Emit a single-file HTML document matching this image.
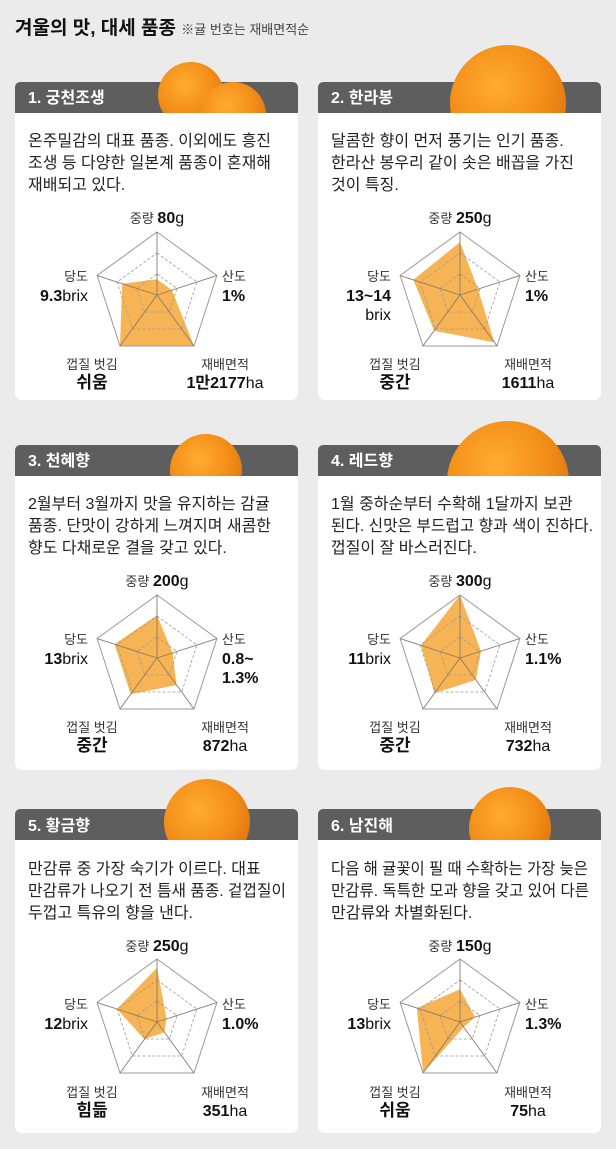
<!DOCTYPE html>
<html><head><meta charset="utf-8"><style>
html,body{margin:0;padding:0;background:#ebebeb}
svg{display:block}
text{font-family:"Liberation Sans","Noto Sans CJK KR",sans-serif}
.t{font-size:13px;fill:#333}
.v{font-size:16px;fill:#111}
.b{font-weight:bold}
.d{font-size:16px;fill:#222}
.h{font-size:16px;fill:#fff;font-weight:bold}
</style></head><body>
<svg id="s" width="616" height="1149" viewBox="0 0 616 1149" xmlns="http://www.w3.org/2000/svg">
<defs>
<radialGradient id="og" cx="0.4" cy="0.35" r="0.7">
<stop offset="0" stop-color="#ffac30"/><stop offset="0.6" stop-color="#f38e18"/><stop offset="1" stop-color="#dc7410"/>
</radialGradient>
</defs>
<rect width="616" height="1149" fill="#ebebeb"/>
<text x="15" y="34" style="font-size:19px;font-weight:bold;fill:#111">겨울의 맛, 대세 품종 <tspan style="font-size:13px;font-weight:normal;fill:#444">※귤 번호는 재배면적순</tspan></text>
<g id="cards"></g>
<g id="texts">
<text class="h" x="28" y="103">1. 궁천조생</text>
<text class="d" x="28" y="146">온주밀감의 대표 품종. 이외에도 흥진</text>
<text class="d" x="28" y="168">조생 등 다양한 일본계 품종이 혼재해</text>
<text class="d" x="28" y="190">재배되고 있다.</text>
<text class="t" x="157" y="223" text-anchor="middle">중량 <tspan class="v b">80</tspan><tspan class="v">g</tspan></text>
<text class="t" x="88" y="281" text-anchor="end">당도</text>
<text class="v" x="88" y="301" text-anchor="end"><tspan class="b">9.3</tspan>brix</text>
<text class="t" x="222" y="281">산도</text>
<text class="v b" x="222" y="301">1%</text>
<text class="t" x="92" y="369" text-anchor="middle">껍질 벗김</text>
<text class="v b" x="92" y="388" text-anchor="middle" style="font-size:17px">쉬움</text>
<text class="t" x="225" y="369" text-anchor="middle">재배면적</text>
<text class="v" x="225" y="388" text-anchor="middle"><tspan class="b">1만2177</tspan>ha</text>
<text class="h" x="331" y="103">2. 한라봉</text>
<text class="d" x="331" y="146">달콤한 향이 먼저 풍기는 인기 품종.</text>
<text class="d" x="331" y="168">한라산 봉우리 같이 솟은 배꼽을 가진</text>
<text class="d" x="331" y="190">것이 특징.</text>
<text class="t" x="460" y="223" text-anchor="middle">중량 <tspan class="v b">250</tspan><tspan class="v">g</tspan></text>
<text class="t" x="391" y="281" text-anchor="end">당도</text>
<text class="v b" x="391" y="301" text-anchor="end">13~14</text>
<text class="v" x="391" y="320" text-anchor="end">brix</text>
<text class="t" x="525" y="281">산도</text>
<text class="v b" x="525" y="301">1%</text>
<text class="t" x="395" y="369" text-anchor="middle">껍질 벗김</text>
<text class="v b" x="395" y="388" text-anchor="middle" style="font-size:17px">중간</text>
<text class="t" x="528" y="369" text-anchor="middle">재배면적</text>
<text class="v" x="528" y="388" text-anchor="middle"><tspan class="b">1611</tspan>ha</text>
<text class="h" x="28" y="466">3. 천혜향</text>
<text class="d" x="28" y="509">2월부터 3월까지 맛을 유지하는 감귤</text>
<text class="d" x="28" y="531">품종. 단맛이 강하게 느껴지며 새콤한</text>
<text class="d" x="28" y="553">향도 다채로운 결을 갖고 있다.</text>
<text class="t" x="157" y="586" text-anchor="middle">중량 <tspan class="v b">200</tspan><tspan class="v">g</tspan></text>
<text class="t" x="88" y="644" text-anchor="end">당도</text>
<text class="v" x="88" y="664" text-anchor="end"><tspan class="b">13</tspan>brix</text>
<text class="t" x="222" y="644">산도</text>
<text class="v b" x="222" y="664">0.8~</text>
<text class="v b" x="222" y="683">1.3%</text>
<text class="t" x="92" y="732" text-anchor="middle">껍질 벗김</text>
<text class="v b" x="92" y="751" text-anchor="middle" style="font-size:17px">중간</text>
<text class="t" x="225" y="732" text-anchor="middle">재배면적</text>
<text class="v" x="225" y="751" text-anchor="middle"><tspan class="b">872</tspan>ha</text>
<text class="h" x="331" y="466">4. 레드향</text>
<text class="d" x="331" y="509">1월 중하순부터 수확해 1달까지 보관</text>
<text class="d" x="331" y="531" textLength="262" lengthAdjust="spacingAndGlyphs">된다. 신맛은 부드럽고 향과 색이 진하다.</text>
<text class="d" x="331" y="553">껍질이 잘 바스러진다.</text>
<text class="t" x="460" y="586" text-anchor="middle">중량 <tspan class="v b">300</tspan><tspan class="v">g</tspan></text>
<text class="t" x="391" y="644" text-anchor="end">당도</text>
<text class="v" x="391" y="664" text-anchor="end"><tspan class="b">11</tspan>brix</text>
<text class="t" x="525" y="644">산도</text>
<text class="v b" x="525" y="664">1.1%</text>
<text class="t" x="395" y="732" text-anchor="middle">껍질 벗김</text>
<text class="v b" x="395" y="751" text-anchor="middle" style="font-size:17px">중간</text>
<text class="t" x="528" y="732" text-anchor="middle">재배면적</text>
<text class="v" x="528" y="751" text-anchor="middle"><tspan class="b">732</tspan>ha</text>
<text class="h" x="28" y="831">5. 황금향</text>
<text class="d" x="28" y="874">만감류 중 가장 숙기가 이르다. 대표</text>
<text class="d" x="28" y="896" textLength="258" lengthAdjust="spacingAndGlyphs">만감류가 나오기 전 틈새 품종. 겉껍질이</text>
<text class="d" x="28" y="918">두껍고 특유의 향을 낸다.</text>
<text class="t" x="157" y="951" text-anchor="middle">중량 <tspan class="v b">250</tspan><tspan class="v">g</tspan></text>
<text class="t" x="88" y="1009" text-anchor="end">당도</text>
<text class="v" x="88" y="1029" text-anchor="end"><tspan class="b">12</tspan>brix</text>
<text class="t" x="222" y="1009">산도</text>
<text class="v b" x="222" y="1029">1.0%</text>
<text class="t" x="92" y="1097" text-anchor="middle">껍질 벗김</text>
<text class="v b" x="92" y="1116" text-anchor="middle" style="font-size:17px">힘듦</text>
<text class="t" x="225" y="1097" text-anchor="middle">재배면적</text>
<text class="v" x="225" y="1116" text-anchor="middle"><tspan class="b">351</tspan>ha</text>
<text class="h" x="331" y="831">6. 남진해</text>
<text class="d" x="331" y="874" textLength="257" lengthAdjust="spacingAndGlyphs">다음 해 귤꽃이 필 때 수확하는 가장 늦은</text>
<text class="d" x="331" y="896" textLength="258" lengthAdjust="spacingAndGlyphs">만감류. 독특한 모과 향을 갖고 있어 다른</text>
<text class="d" x="331" y="918">만감류와 차별화된다.</text>
<text class="t" x="460" y="951" text-anchor="middle">중량 <tspan class="v b">150</tspan><tspan class="v">g</tspan></text>
<text class="t" x="391" y="1009" text-anchor="end">당도</text>
<text class="v" x="391" y="1029" text-anchor="end"><tspan class="b">13</tspan>brix</text>
<text class="t" x="525" y="1009">산도</text>
<text class="v b" x="525" y="1029">1.3%</text>
<text class="t" x="395" y="1097" text-anchor="middle">껍질 벗김</text>
<text class="v b" x="395" y="1116" text-anchor="middle" style="font-size:17px">쉬움</text>
<text class="t" x="528" y="1097" text-anchor="middle">재배면적</text>
<text class="v" x="528" y="1116" text-anchor="middle"><tspan class="b">75</tspan>ha</text>
</g>
</svg>
<script>
(function(){
var NS="http://www.w3.org/2000/svg",g=document.getElementById("cards");
function el(t,a){var e=document.createElementNS(NS,t);for(var k in a)e.setAttribute(k,a[k]);g.appendChild(e);return e;}
var cards=[
 {x:15,y:82,b:400,d:[.25,.25,1,1,.58],o:[[191,95,33],[233,115,33]]},
 {x:318,y:82,b:400,d:[.84,.3,.93,.7,.78],o:[[508,103,58]]},
 {x:15,y:445,b:770,d:[.68,.26,.53,.71,.71],o:[[206,470,36]]},
 {x:318,y:445,b:770,d:[1,.35,.43,.69,.65],o:[[508,482,61]]},
 {x:15,y:809,b:1133,d:[.86,.16,.2,.34,.67],o:[[207,822,43]]},
 {x:318,y:809,b:1133,d:[.52,.25,.1,1,.72],o:[[510,828,41]]}
];
var R=63;
cards.forEach(function(c,i){
 var w=283;
 el("rect",{x:c.x,y:c.y,width:w,height:c.b-c.y,rx:7,fill:"#fff"});
 el("path",{d:"M"+c.x+","+(c.y+31)+"V"+(c.y+6)+"q0,-6 6,-6H"+(c.x+w-6)+"q6,0 6,6V"+(c.y+31)+"Z",fill:"#5e5e5e"});
 var cid="c"+i;
 var cp=el("clipPath",{id:cid});
 var r=document.createElementNS(NS,"rect");r.setAttribute("x",0);r.setAttribute("y",0);r.setAttribute("width",616);r.setAttribute("height",c.y+31);cp.appendChild(r);
 c.o.forEach(function(o){el("circle",{cx:o[0],cy:o[1],r:o[2],fill:"url(#og)","clip-path":"url(#"+cid+")"});});
 var cx=c.x+142,cy=c.y+213;
 function pt(k,f){var a=(-90+72*k)*Math.PI/180;return [cx+R*f*Math.cos(a),cy+R*f*Math.sin(a)];}
 function poly(fs){var s=[];for(var k=0;k<5;k++){var p=pt(k,fs[k]);s.push(p[0].toFixed(1)+","+p[1].toFixed(1));}return s.join(" ");}
 el("polygon",{points:poly(c.d),fill:"#f7b455"});
 [1/3,2/3].forEach(function(f){el("polygon",{points:poly([f,f,f,f,f]),fill:"none",stroke:"#999","stroke-width":0.8,"stroke-dasharray":"3,2"});});
 el("polygon",{points:poly([1,1,1,1,1]),fill:"none",stroke:"#999","stroke-width":1});
 for(var k=0;k<5;k++){var p=pt(k,1);el("line",{x1:cx,y1:cy,x2:p[0],y2:p[1],stroke:"#8a7a66","stroke-width":0.9});}
});
})();
</script>
</body></html>
